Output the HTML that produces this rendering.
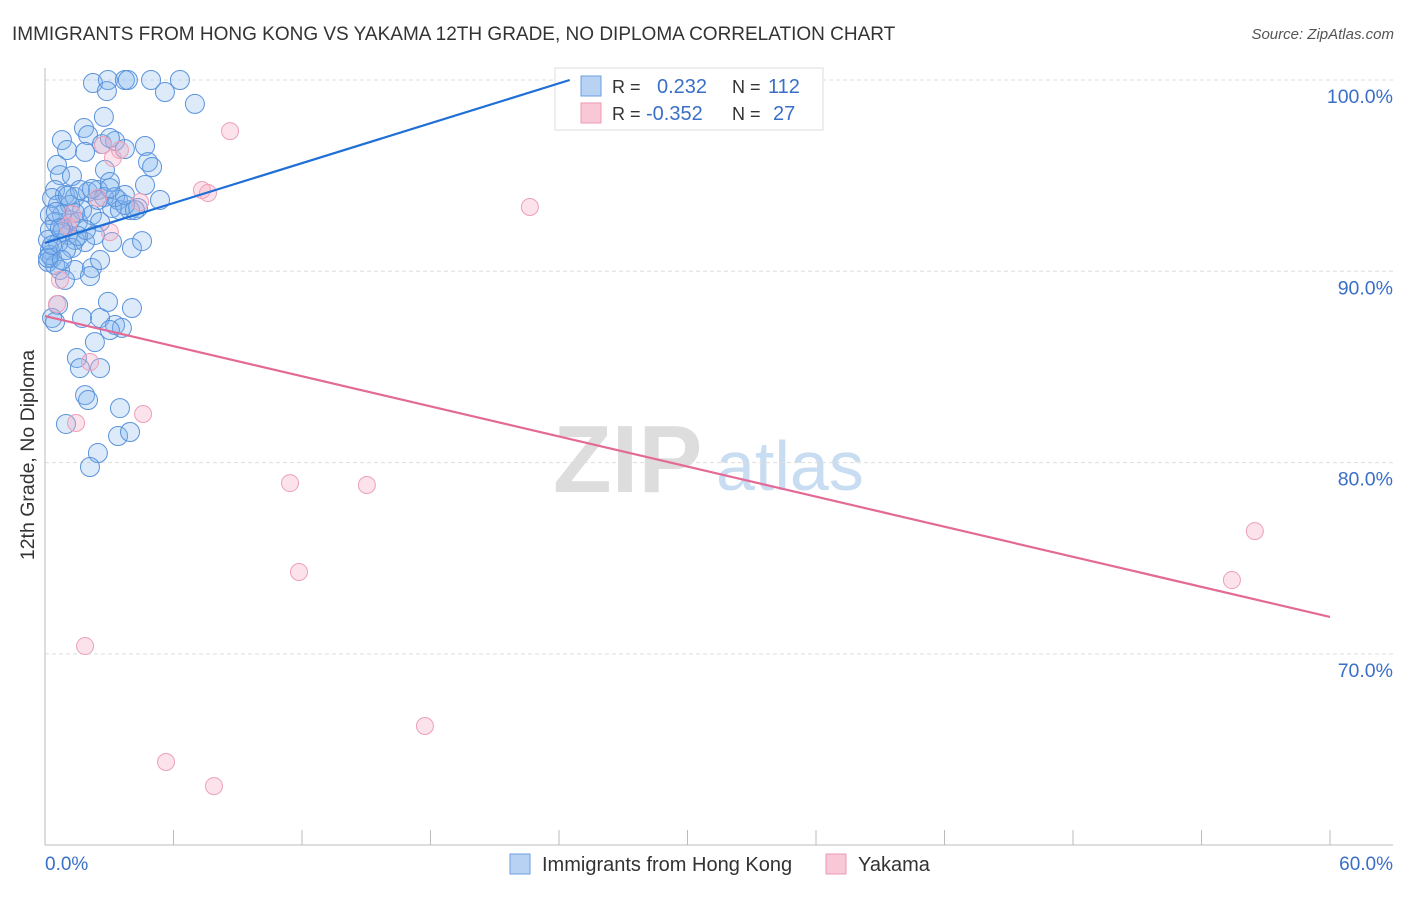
<!DOCTYPE html>
<html><head><meta charset="utf-8"><style>
body{margin:0;background:#fff;font-family:"Liberation Sans",sans-serif}
svg text{font-family:"Liberation Sans",sans-serif}
</style></head><body>
<svg width="1406" height="892" viewBox="0 0 1406 892">
<text x="12" y="40" font-size="19" fill="#333">IMMIGRANTS FROM HONG KONG VS YAKAMA 12TH GRADE, NO DIPLOMA CORRELATION CHART</text>
<text x="1394" y="39" font-size="15" fill="#555" font-style="italic" text-anchor="end">Source: ZipAtlas.com</text>
<g>
<text x="553" y="492" font-size="96" font-family="Liberation Serif" font-weight="bold" fill="#ddd">ZIP</text>
<text x="716" y="490" font-size="70" fill="#c8dcf2">atlas</text>
</g>
<g id="grid"></g>
<g id="axes"></g>
<g id="pts"></g>
<g>
<rect x="555" y="68" width="268" height="62" fill="#fff" stroke="#ddd"/>
<rect x="581" y="76" width="20" height="20" fill="#b8d2f4" stroke="#6d9ee0"/>
<rect x="581" y="103" width="20" height="20" fill="#f9c8d6" stroke="#ea9ab2"/>
<text x="612" y="93" font-size="18" fill="#333">R =</text>
<text x="657" y="93" font-size="20" fill="#3a6fc8">0.232</text>
<text x="732" y="93" font-size="18" fill="#333">N =</text>
<text x="768" y="93" font-size="20" fill="#3a6fc8">112</text>
<text x="612" y="120" font-size="18" fill="#333">R =</text>
<text x="646" y="120" font-size="20" fill="#3a6fc8">-0.352</text>
<text x="732" y="120" font-size="18" fill="#333">N =</text>
<text x="773" y="120" font-size="20" fill="#3a6fc8">27</text>
</g>
<g id="trends"></g>
<text transform="translate(34,455) rotate(-90)" font-size="19.5" fill="#333" text-anchor="middle">12th Grade, No Diploma</text>
<g>
<rect x="510" y="854" width="20" height="20" fill="#b8d2f4" stroke="#6d9ee0"/>
<text x="542" y="871" font-size="20" fill="#333">Immigrants from Hong Kong</text>
<rect x="826" y="854" width="20" height="20" fill="#f9c8d6" stroke="#ea9ab2"/>
<text x="858" y="871" font-size="20" fill="#333">Yakama</text>
</g>
</svg>
<script>
const yTicks=[100,90,80,70];
const yTickLabels=["100.0%","90.0%","80.0%","70.0%"];
const xTickVals=[0,6,12,18,24,30,36,42,48,54,60];
const blueX=[2.24,2.94,3.73,3.87,4.95,6.30,2.89,5.60,7.0,2.75,1.82,0.79,2.01,3.27,4.67,1.03,1.87,2.66,3.03,4.81,5.0,0.56,0.70,1.26,2.80,4.67,0.47,0.93,1.40,2.01,2.47,3.03,3.41,3.97,4.34,5.37,0.33,0.61,0.79,1.17,1.54,1.73,2.19,2.57,3.13,3.50,0.23,0.47,0.84,1.07,1.40,1.87,2.33,3.13,4.06,4.53,0.23,0.33,0.14,0.47,0.70,1.40,2.19,2.57,2.10,0.93,0.61,0.33,0.47,1.73,2.57,2.94,3.27,3.59,4.06,3.03,2.33,1.49,1.63,2.57,1.87,2.01,3.50,0.98,3.41,3.97,2.47,2.10,0.23,0.14,1.17,1.63,0.79,1.26,0.61,0.98,0.23,0.14,0.79,0.33,0.51,1.07,1.54,2.75,3.27,1.91,2.19,2.47,3.73,3.73,3.73,4.20,3.03,0.70,1.40];
const blueY=[99.84,100,100,100,100,100,99.42,99.37,98.75,98.07,97.49,96.86,97.12,96.81,96.55,96.34,96.24,96.65,96.97,95.71,95.45,95.56,95.03,94.98,95.30,94.51,94.25,93.99,93.88,94.15,94.25,94.67,93.73,93.20,93.31,93.73,93.83,93.47,92.94,92.68,92.58,93.20,92.94,92.58,93.31,93.20,92.94,92.58,92.26,91.90,91.64,91.53,91.90,91.53,91.22,91.58,91.11,90.70,90.49,90.33,90.07,90.07,90.17,90.59,89.75,89.55,88.24,87.56,87.35,87.56,87.56,88.40,87.19,87.04,88.08,86.93,86.30,85.47,84.94,84.94,83.53,83.27,82.85,82.02,81.39,81.60,80.50,79.77,90.85,90.70,93.47,94.25,92.05,91.22,91.48,91.11,92.16,91.64,90.59,91.37,93.10,93.94,91.85,93.88,93.88,92.16,94.30,93.73,93.99,93.47,96.39,93.20,94.35,92.26,93.05];
const pinkX=[30.77,8.64,3.17,2.71,3.50,7.33,7.61,2.47,1.26,4.44,22.64,3.03,0.56,0.70,2.10,4.58,1.45,11.44,15.03,56.49,55.42,11.86,1.87,17.74,5.65,7.89,1.07];
const pinkY=[100,97.33,95.92,96.60,96.34,94.25,94.09,93.83,93.00,93.62,93.36,92.05,88.29,89.55,85.26,82.54,82.07,78.93,78.83,76.42,73.86,74.28,70.41,66.23,64.35,63.09,92.37];
const blueTrend=[[0,91.48],[24.5,100]];
const pinkTrend=[[0,87.66],[60,71.93]];
const NS="http://www.w3.org/2000/svg";
const sx=v=>45+v*(1285/60);
const sy=v=>80+(100-v)*19.13;
function mk(tag,attrs,parent){const e=document.createElementNS(NS,tag);for(const k in attrs)e.setAttribute(k,attrs[k]);parent.appendChild(e);return e;}
const grid=document.getElementById('grid'),axes=document.getElementById('axes'),pts=document.getElementById('pts'),tr=document.getElementById('trends');
yTicks.forEach((t,i)=>{
 const l=mk('line',{x1:45,x2:1393,y1:sy(t),y2:sy(t),stroke:'#ddd','stroke-dasharray':'4,3'},grid);
 
 
 const tx=mk('text',{x:1393,y:sy(t)+23,'font-size':19.5,fill:'#3a6fc8','text-anchor':'end'},axes);
 tx.textContent=yTickLabels[i];
 
 
});
const al=mk('line',{x1:45,x2:45,y1:68,y2:845,stroke:'#bbb'},axes);


const bl=mk('line',{x1:45,x2:1393,y1:845,y2:845,stroke:'#bbb'},axes);


xTickVals.forEach(v=>{
 const t=mk('line',{x1:sx(v),x2:sx(v),y1:830,y2:845,stroke:'#bbb'},axes);
 
 
});
const x0=mk('text',{x:45,y:870,'font-size':19,fill:'#3a6fc8'},axes);x0.textContent='0.0%';


const x1=mk('text',{x:1393,y:870,'font-size':19,fill:'#3a6fc8','text-anchor':'end'},axes);x1.textContent='60.0%';


blueX.forEach((x,i)=>{
 const c=mk('circle',{cx:sx(x),cy:sy(blueY[i]),r:9.5,fill:'rgba(130,178,238,0.28)',stroke:'#5a93dc','stroke-width':1},pts);
 
 
});
pinkX.forEach((x,i)=>{
 const c=mk('circle',{cx:sx(x),cy:sy(pinkY[i]),r:8.5,fill:'rgba(245,170,195,0.33)',stroke:'#eda0b8','stroke-width':1},pts);
 
 
});
const b=mk('line',{x1:sx(blueTrend[0][0]),y1:sy(blueTrend[0][1]),x2:sx(blueTrend[1][0]),y2:sy(blueTrend[1][1]),stroke:'#1f6fd6','stroke-width':2.2},tr);


const p=mk('line',{x1:sx(pinkTrend[0][0]),y1:sy(pinkTrend[0][1]),x2:sx(pinkTrend[1][0]),y2:sy(pinkTrend[1][1]),stroke:'#e46a96','stroke-width':2.2},tr);


</script>
</body></html>
